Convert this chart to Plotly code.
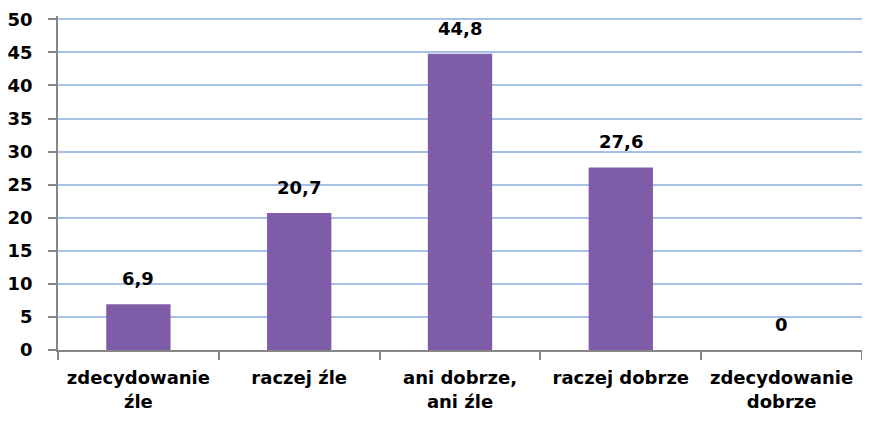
import plotly.graph_objects as go

categories = ["zdecydowanie<br>źle", "raczej źle", "ani dobrze,<br>ani źle", "raczej dobrze", "zdecydowanie<br>dobrze"]
values = [6.9, 20.7, 44.8, 27.6, 0]
value_labels = ["6,9", "20,7", "44,8", "27,6", "0"]
y_ticks = [0, 5, 10, 15, 20, 25, 30, 35, 40, 45, 50]

font_family = "'DejaVu Sans', sans-serif"

fig = go.Figure()
fig.add_trace(go.Bar(
    x=categories,
    y=values,
    width=0.4,
    marker=dict(color="#7E5CA8", line=dict(color="#5E3F87", width=0)),
    hoverinfo="skip",
))

# data labels above each bar
for cat, val, lab in zip(categories, values, value_labels):
    fig.add_annotation(
        x=cat, y=val, text="<b>" + lab + "</b>",
        showarrow=False, yanchor="bottom", yshift=13,
        font=dict(family=font_family, size=18, color="#000000"),
    )

# page body adds 8px, so the figure is a bit smaller than the window
# range goes a bit above 50 so that the top gridline and label are kept
fig.update_layout(
    width=862, height=421,
    margin=dict(l=50, r=8, t=8, b=79),
    paper_bgcolor="white", plot_bgcolor="white",
    showlegend=False,
    bargap=0.6,
    font=dict(family=font_family, size=18, color="#000000"),
)
fig.update_xaxes(
    type="category",
    tickvals=categories,
    ticktext=["<b>" + c.replace("<br>", "</b><br><b>") + "</b>" for c in categories],
    showline=True, linecolor="#868686", linewidth=1.5,
    ticks="outside", tickson="boundaries", ticklen=8, tickcolor="#868686", tickwidth=1.5,
    ticklabelstandoff=11,
    showgrid=False, automargin=False,
    tickfont=dict(family=font_family, size=18),
)
fig.update_yaxes(
    range=[0, 50.5], tickvals=y_ticks,
    ticktext=["<b>%d</b>" % t for t in y_ticks],
    showline=True, linecolor="#868686", linewidth=1.5,
    ticks="outside", ticklen=8, tickcolor="#868686", tickwidth=1.5,
    ticklabelstandoff=12,
    showgrid=True, gridcolor="#A7C0E5", gridwidth=1.5,
    zeroline=False, automargin=False,
    tickfont=dict(family=font_family, size=18),
)

fig.write_html("out.html")
